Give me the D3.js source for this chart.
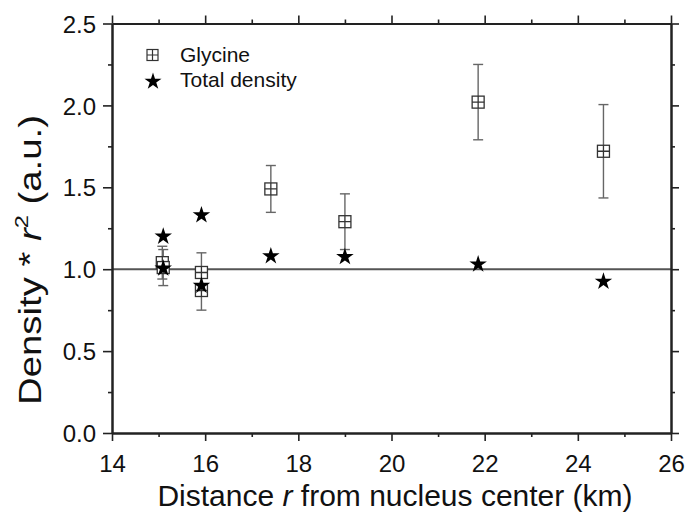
<!DOCTYPE html>
<html lang="en">
  <head>
    <meta charset="UTF-8" />
    <title>Density * r^2 vs distance</title>
    <style>
      body { margin: 0; background: #fff; }
      svg { font-family: "Liberation Sans", Arial, sans-serif; }
      .axis path, .axis line { stroke: #222; }
      .axis path { stroke-width: 2; }
      .axis line { stroke-width: 1.6; }
      .axis text { font-size: 24px; fill: #111; font-family: "Liberation Sans", Arial, sans-serif; }
    </style>
  </head>
  <body>
    <svg width="685" height="516"></svg>
    <script src="https://d3js.org/d3.v7.min.js"></script>
    <script>
      // Glycine (with error bars)
      const glyX = [15.08, 15.1, 15.92, 15.92, 17.41, 19.0, 21.86, 24.55];
      const glyY = [1.04, 1.01, 0.98, 0.87, 1.49, 1.29, 2.02, 1.72];
      const glyErr = [0.10, 0.11, 0.12, 0.12, 0.143, 0.17, 0.23, 0.285];

      // Total density
      const totX = [15.1, 15.1, 15.92, 15.92, 17.41, 19.0, 21.86, 24.55];
      const totY = [1.2, 1.005, 1.33, 0.9, 1.08, 1.075, 1.03, 0.925];

      const xTicks = [14, 16, 18, 20, 22, 24, 26];
      const xMinor = [15, 17, 19, 21, 23, 25];
      const yTicks = [0, 0.5, 1.0, 1.5, 2.0, 2.5];
      const yMinor = [0.25, 0.75, 1.25, 1.75, 2.25];

      const svg = d3.select("svg");
      const mLeft = 112, mRight = 671, mTop = 23.5, mBottom = 433;

      const x = d3.scaleLinear().domain([14, 26]).range([mLeft, mRight]);
      const y = d3.scaleLinear().domain([0, 2.5]).range([mBottom, mTop]);

      // reference line at 1.0
      svg.append("line")
        .attr("x1", mLeft).attr("x2", mRight)
        .attr("y1", y(1)).attr("y2", y(1))
        .attr("stroke", "#555").attr("stroke-width", 2);

      // axes: major + minor on all four sides, all outward
      function addAxis(gen, scale, ticks, size, fmt, transform) {
        const g = svg.append("g").attr("class", "axis")
          .attr("transform", transform)
          .call(gen(scale).tickValues(ticks).tickSize(size).tickSizeOuter(0)
            .tickPadding(7).tickFormat(fmt));
        return g;
      }
      const noLabel = () => "";
      addAxis(d3.axisBottom, x, xMinor, 4, noLabel, `translate(0,${mBottom})`);
      addAxis(d3.axisTop, x, xMinor, 4, noLabel, `translate(0,${mTop})`);
      addAxis(d3.axisLeft, y, yMinor, 4, noLabel, `translate(${mLeft},0)`);
      addAxis(d3.axisRight, y, yMinor, 4, noLabel, `translate(${mRight},0)`);
      addAxis(d3.axisTop, x, xTicks, 8, noLabel, `translate(0,${mTop})`);
      addAxis(d3.axisRight, y, yTicks, 8, noLabel, `translate(${mRight},0)`);
      addAxis(d3.axisBottom, x, xTicks, 8, d3.format("d"), `translate(0,${mBottom})`)
        .selectAll("text").attr("dy", "0.98em");
      addAxis(d3.axisLeft, y, yTicks, 9, d3.format(".1f"), `translate(${mLeft},0)`)
        .selectAll("text").attr("dy", "0.36em");

      // error bars
      const eb = svg.append("g").attr("stroke", "#666").attr("stroke-width", 1.4);
      glyX.forEach((xv, i) => {
        const cx = x(xv), y0 = y(glyY[i] - glyErr[i]), y1 = y(glyY[i] + glyErr[i]);
        eb.append("line").attr("x1", cx).attr("x2", cx).attr("y1", y0).attr("y2", y1);
        eb.append("line").attr("x1", cx - 5).attr("x2", cx + 5).attr("y1", y0).attr("y2", y0);
        eb.append("line").attr("x1", cx - 5).attr("x2", cx + 5).attr("y1", y1).attr("y2", y1);
      });

      // glycine squares with cross
      const sq = 6;
      const gly = svg.append("g").selectAll("g")
        .data(glyX.map((xv, i) => ({ x: xv, y: glyY[i] })))
        .join("g")
        .attr("transform", (d) => `translate(${x(d.x)},${y(d.y)})`)
        .attr("fill", "none").attr("stroke", "#333").attr("stroke-width", 1.3);
      gly.append("rect").attr("x", -sq).attr("y", -sq)
        .attr("width", 2 * sq).attr("height", 2 * sq).attr("fill", "#fff");
      gly.append("path").attr("d", `M${-sq},0H${sq}M0,${-sq}V${sq}`);

      // total density stars
      const star = d3.symbol().type(d3.symbolStar).size(95);
      svg.append("g").selectAll("path")
        .data(totX.map((xv, i) => ({ x: xv, y: totY[i] })))
        .join("path")
        .attr("d", star)
        .attr("transform", (d) => `translate(${x(d.x)},${y(d.y)})`)
        .attr("fill", "#000");

      // legend
      const lg = svg.append("g");
      const lgS = 5.5;
      const lgSq = lg.append("g").attr("transform", "translate(152.5,55)")
        .attr("fill", "none").attr("stroke", "#333").attr("stroke-width", 1.2);
      lgSq.append("rect").attr("x", -lgS).attr("y", -lgS)
        .attr("width", 2 * lgS).attr("height", 2 * lgS);
      lgSq.append("path").attr("d", `M${-lgS},0H${lgS}M0,${-lgS}V${lgS}`);
      lg.append("path").attr("d", d3.symbol().type(d3.symbolStar).size(90))
        .attr("transform", "translate(153,81.5)").attr("fill", "#000");
      lg.append("text").attr("x", 180).attr("y", 62)
        .attr("font-size", 21).attr("fill", "#111").text("Glycine");
      lg.append("text").attr("x", 180).attr("y", 87)
        .attr("font-size", 21).attr("fill", "#111").text("Total density");

      // axis titles
      const xt = svg.append("text")
        .attr("x", 395).attr("y", 506)
        .attr("text-anchor", "middle").attr("font-size", 30).attr("fill", "#111");
      xt.append("tspan").text("Distance ");
      xt.append("tspan").attr("font-style", "italic").text("r");
      xt.append("tspan").text(" from nucleus center (km)");

      const yt = svg.append("text")
        .attr("text-anchor", "middle").attr("font-size", 31).attr("fill", "#111");
      yt.append("tspan").text("Density * ");
      yt.append("tspan").attr("font-style", "italic").text("r");
      yt.append("tspan").attr("font-size", 19).attr("dy", -13).text("2");
      yt.append("tspan").attr("dy", 13).text(" (a.u.)");
      // the reference title runs about 290 px along the axis
      const ytLen = yt.node().getComputedTextLength();
      yt.attr("transform", `translate(41,260) rotate(-90) scale(${290 / ytLen},1)`);
    </script>
  </body>
</html>
